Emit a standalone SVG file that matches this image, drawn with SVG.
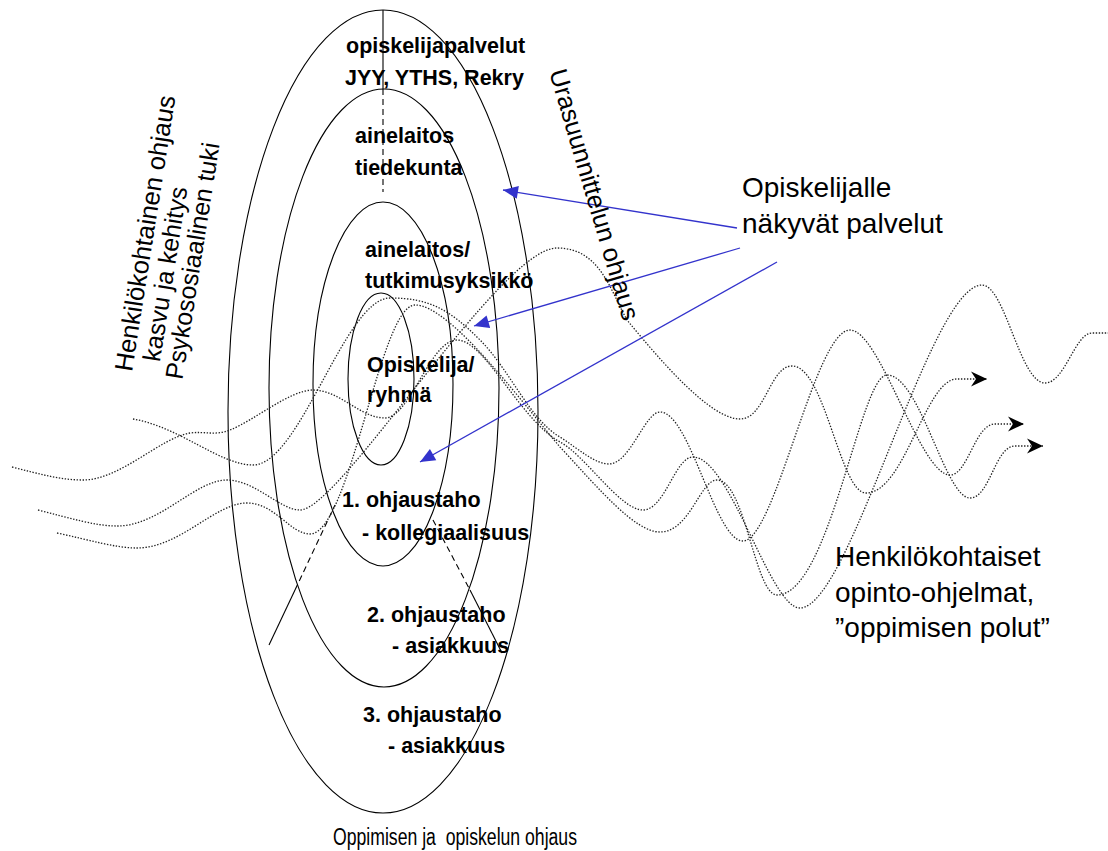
<svg xmlns="http://www.w3.org/2000/svg" width="1108" height="851" viewBox="0 0 1108 851">
<defs>
<style>
.ring{fill:none;stroke:#000;stroke-width:1.1}
.b{font-family:"Liberation Sans",Arial,sans-serif;font-weight:bold;font-size:21.5px;fill:#000}
.r{font-family:"Liberation Sans",Arial,sans-serif;font-size:28px;fill:#000}
.rs{font-family:"Liberation Sans",Arial,sans-serif;font-size:25px;fill:#000}
.dot{fill:none;stroke:#222;stroke-width:1.3;stroke-dasharray:1.4 1.6}
.blue{fill:none;stroke:#3333cc;stroke-width:1.3}
</style>
<marker id="bh" markerUnits="userSpaceOnUse" markerWidth="20" markerHeight="16" refX="0" refY="0" viewBox="-16 -8 18 16" orient="auto">
<path d="M0,0 L-15,-6.5 L-15,6.5 Z" fill="#3333cc"/>
</marker>
<marker id="kh" markerUnits="userSpaceOnUse" markerWidth="20" markerHeight="18" refX="0" refY="0" viewBox="-17 -9 19 18" orient="auto">
<path d="M0,0 L-16,-7.5 L-11,0 L-16,7.5 Z" fill="#000"/>
</marker>
</defs>
<rect width="1108" height="851" fill="#fff"/>

<g id="ring-outer"><ellipse class="ring" cx="383" cy="411.5" rx="155" ry="401.5"/></g>
<g id="ring-2"><ellipse class="ring" cx="384" cy="388" rx="115" ry="299"/></g>
<g id="ring-3"><ellipse class="ring" cx="383" cy="384" rx="70" ry="182"/></g>
<g id="ring-inner"><ellipse class="ring" cx="381" cy="379" rx="33" ry="86"/></g>

<g id="divider-lines">
<line x1="383" y1="10" x2="383" y2="89" stroke="#000" stroke-width="1.1"/>
<line x1="383" y1="89" x2="383" y2="192" stroke="#000" stroke-width="1.1" stroke-dasharray="6 4"/>
<line x1="269" y1="645" x2="295" y2="590" stroke="#000" stroke-width="1.1"/>
<line x1="295" y1="590" x2="335" y2="505" stroke="#000" stroke-width="1.1" stroke-dasharray="6 4"/>
<line x1="433" y1="520" x2="470" y2="590" stroke="#000" stroke-width="1.1" stroke-dasharray="6 4"/>
<line x1="470" y1="590" x2="502" y2="653" stroke="#000" stroke-width="1.1"/>
</g>

<g id="paths">
<path class="dot" d="M133,419 C180,427 220,465 253,465 C300,465 345,298 390,298 C430,298 450,310 480,340 C510,370 530,420 560,437 C580,450 595,464 609,464 C630,464 645,412 660,412 C690,412 715,541 743,541 C775,541 815,330 850,330 C880,330 920,475 950,475 C968,475 975,424 995,424 L1024,424" marker-end="url(#kh)"/>
<path class="dot" d="M12,467 C40,474 60,480 83,480 C120,480 160,438 190,433 C205,431 215,436 230,430 C255,420 290,390 313,390 C340,390 360,418 385,418 C410,418 430,340 457,340 C485,340 520,420 560,442 C585,455 620,510 643,510 C665,510 675,457 693,457 C730,457 770,608 800,608 C850,608 930,285 982,285 C1005,285 1020,383 1045,383 C1065,383 1075,333 1092,333 L1108,333"/>
<path class="dot" d="M38,510 C70,518 95,526 117,526 C160,526 195,480 227,480 C255,480 280,510 300,510 C340,510 500,248 557,248 C600,248 610,290 627,320 C660,360 710,419 740,419 C765,419 770,366 792,366 C825,366 840,493 866,493 C905,493 925,379 957,379 L987,379" marker-end="url(#kh)"/>
<path class="dot" d="M57,533 C90,540 115,548 137,548 C180,548 215,503 247,503 C275,503 290,534 310,534 C350,534 380,305 415,305 C450,305 520,400 560,447 C600,490 635,532 660,532 C690,532 700,480 717,480 C745,480 755,595 777,595 C830,595 860,375 887,375 C920,375 945,498 970,498 C990,498 995,446 1015,446 L1043,446" marker-end="url(#kh)"/>
</g>

<g id="service-arrows">
<line class="blue" x1="737" y1="228" x2="503" y2="190" marker-end="url(#bh)"/>
<line class="blue" x1="740" y1="248" x2="474" y2="326" marker-end="url(#bh)"/>
<line class="blue" x1="777" y1="262" x2="420" y2="462" marker-end="url(#bh)"/>
</g>

<g id="label-services">
<text class="b" x="346" y="53">opiskelijapalvelut</text>
<text class="b" x="345" y="85">JYY, YTHS, Rekry</text>
</g>
<g id="label-faculty">
<text class="b" x="355" y="143">ainelaitos</text>
<text class="b" x="355" y="175">tiedekunta</text>
</g>
<g id="label-unit">
<text class="b" x="365" y="257">ainelaitos/</text>
<text class="b" x="365" y="288">tutkimusyksikkö</text>
</g>
<g id="label-student">
<text class="b" x="367" y="372">Opiskelija/</text>
<text class="b" x="367" y="402">ryhmä</text>
</g>
<g id="label-level1">
<text class="b" x="342" y="507">1. ohjaustaho</text>
<text class="b" x="362" y="540">- kollegiaalisuus</text>
</g>
<g id="label-level2">
<text class="b" x="367" y="622">2. ohjaustaho</text>
<text class="b" x="392" y="653">- asiakkuus</text>
</g>
<g id="label-level3">
<text class="b" x="363" y="722">3. ohjaustaho</text>
<text class="b" x="388" y="753">- asiakkuus</text>
</g>

<g id="label-left" transform="rotate(-81)">
<text class="rs" x="-347" y="188.5" style="font-size:25.6px">Henkilökohtainen ohjaus</text>
<text class="rs" x="-333" y="214.5">kasvu ja kehitys</text>
<text class="rs" x="-347" y="239.5">Psykososiaalinen tuki</text>
</g>
<g id="label-career" transform="translate(549,72) rotate(73.5)">
<text class="rs" x="0" y="0" style="font-size:25.5px">Urasuunnittelun ohjaus</text>
</g>
<g id="label-visible">
<text class="r" x="742" y="197">Opiskelijalle</text>
<text class="r" x="742" y="233">näkyvät palvelut</text>
</g>
<g id="label-paths">
<text class="r" x="835" y="566">Henkilökohtaiset</text>
<text class="r" x="835" y="602">opinto-ohjelmat,</text>
<text class="r" x="835" y="637">”oppimisen polut”</text>
</g>
<g id="label-bottom">
<text x="333" y="845" xml:space="preserve" textLength="244" lengthAdjust="spacingAndGlyphs" style="font-family:'Liberation Sans',Arial,sans-serif;font-size:23.5px">Oppimisen ja  opiskelun ohjaus</text>
</g>
</svg>
